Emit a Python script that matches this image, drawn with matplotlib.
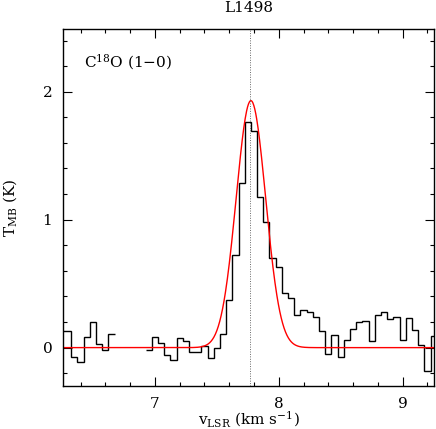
import numpy as np
import matplotlib
matplotlib.use("Agg")
import matplotlib.pyplot as plt
from matplotlib.ticker import MultipleLocator

# C18O (1-0) spectrum towards L1498, channel width 0.05 km/s
v_first_edge = 6.225
dv = 0.05
tmb = [0.13, 0.13, -0.075, -0.11, 0.086, 0.20, 0.032, -0.022, 0.107,
       np.nan, np.nan, np.nan, np.nan, np.nan,
       -0.022, 0.08, 0.037, -0.057, -0.096, 0.073, 0.05, -0.036, -0.036,
       0.01, -0.08, 0.0, 0.11, 0.373, 0.72, 1.29, 1.76, 1.69, 1.18, 0.98,
       0.70, 0.63, 0.43, 0.387, 0.256, 0.293, 0.275, 0.243, 0.133, -0.047,
       0.102, -0.07, 0.057, 0.147, 0.20, 0.21, 0.053, 0.253, 0.28, 0.225,
       0.243, 0.06, 0.235, 0.134, 0.024, -0.18, 0.088]

# gaussian fit
fit_amp = 1.93
fit_v0 = 7.775
fit_fwhm = 0.28
v_sys = 7.764

tmb = np.array(tmb)
edges = v_first_edge + dv * np.arange(len(tmb) + 1)

plt.rcParams['font.family'] = ['DejaVu Serif']
plt.rcParams['mathtext.fontset'] = 'dejavuserif'

fig = plt.figure(figsize=(4.36, 4.29), dpi=100)
ax = fig.add_axes([0.1456, 0.1002, 0.8498, 0.8322])

ax.stairs(tmb, edges, color='black', lw=1.0, baseline=None)

vv = np.linspace(6.2, 9.3, 800)
sig = fit_fwhm / (2 * np.sqrt(2 * np.log(2)))
ax.plot(vv, fit_amp * np.exp(-(vv - fit_v0) ** 2 / (2 * sig ** 2)),
        color='red', lw=1.0)

ax.axvline(v_sys, color='dimgray', lw=0.7, ls=(0, (1, 1.5)))

ax.set_xlim(6.262, 9.253)
ax.set_ylim(-0.30, 2.49)
ax.xaxis.set_major_locator(MultipleLocator(1))
ax.xaxis.set_minor_locator(MultipleLocator(0.2))
ax.yaxis.set_major_locator(MultipleLocator(1))
ax.yaxis.set_minor_locator(MultipleLocator(0.2))
ax.tick_params(which='both', direction='in', top=True, right=True,
               labelsize=11, width=0.8)
ax.tick_params(which='major', length=6.5, pad=8)
ax.tick_params(which='minor', length=3.2)
for s in ax.spines.values():
    s.set_linewidth(1.0)

ax.set_title('L1498', fontsize=11, pad=12)
ax.set_xlabel(r'v$_{\rm LSR}$ (km s$^{-1}$)', fontsize=11, labelpad=-1)
ax.set_ylabel(r'T$_{\rm MB}$ (K)', fontsize=11, labelpad=17)
ax.text(0.055, 0.908, 'C$^{18}$O (1\u22120)', transform=ax.transAxes,
        fontsize=11, va='center', ha='left')

fig.savefig('out.png', dpi=100)
